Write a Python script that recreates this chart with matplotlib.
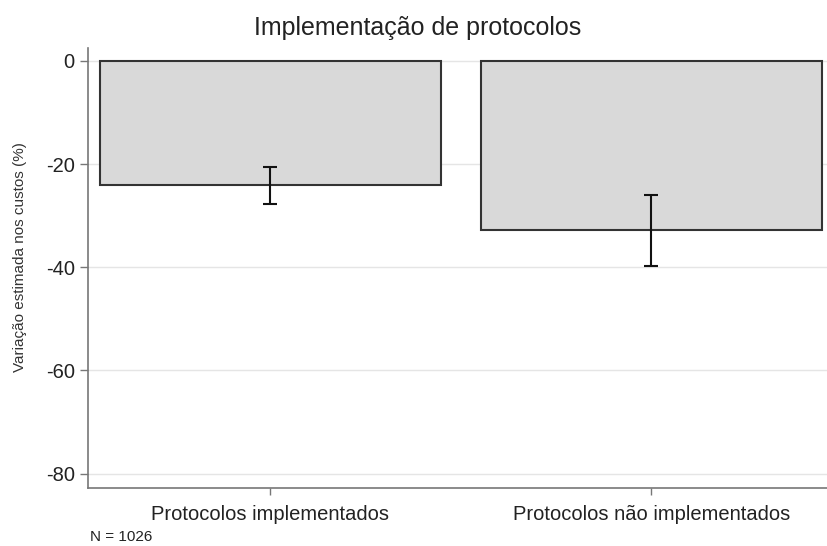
import matplotlib
matplotlib.use("Agg")
import matplotlib.pyplot as plt
import numpy as np

categories = ["Protocolos implementados", "Protocolos não implementados"]
values = [-24.1, -32.8]
ci_low = [-27.7, -39.8]
ci_high = [-20.6, -26.0]
yticks = [0, -20, -40, -60, -80]

plt.rcParams['font.family'] = ['Liberation Sans', 'DejaVu Sans']

fig = plt.figure(figsize=(8.27, 5.46), dpi=100)
W, H = 827, 546
ax = fig.add_axes([88 / W, 1 - 488 / H, (827 - 88) / W, (488 - 48) / H])

x = np.arange(len(categories))
vals = np.array(values)
yerr = np.array([vals - np.array(ci_low), np.array(ci_high) - vals])
ax.bar(x, vals, width=0.895, color="#d9d9d9", edgecolor="#333333", linewidth=1.5, zorder=2)
ax.errorbar(x, vals, yerr=yerr, fmt="none", ecolor="#111111", elinewidth=1.5, capsize=5, capthick=1.5, zorder=3)

ax.set_xlim(-0.479, 1.461)
ax.set_ylim(-82.8, 2.5)
ax.set_yticks(yticks)
ax.set_yticklabels([str(t) for t in yticks])
ax.set_xticks(x)
ax.set_xticklabels(categories, fontsize=14.5, color="#222222")
ax.tick_params(axis='y', labelsize=14.5, length=6, color="#777777", width=1, labelcolor="#222222")
ax.tick_params(axis='x', length=5, color="#777777", width=1, pad=7)
ax.grid(axis='y', color="#e5e5e5", linewidth=1, zorder=0)
ax.set_axisbelow(True)
for s in ["top", "right"]:
    ax.spines[s].set_visible(False)
for s in ["left", "bottom"]:
    ax.spines[s].set_color("#777777")
    ax.spines[s].set_linewidth(1.2)

ax.set_ylabel("Variação estimada nos custos (%)", fontsize=11, color="#333333")
ax.yaxis.set_label_coords((27 - 88) / 739, (488 - 257) / 440)
fig.text(418 / W, 1 - 28 / H, "Implementação de protocolos", fontsize=18, ha="center", va="center", color="#222222")
fig.text(90 / W, 1 - 537 / H, "N = 1026", fontsize=11, ha="left", va="center", color="#222222")

fig.savefig("out.png", dpi=100)
